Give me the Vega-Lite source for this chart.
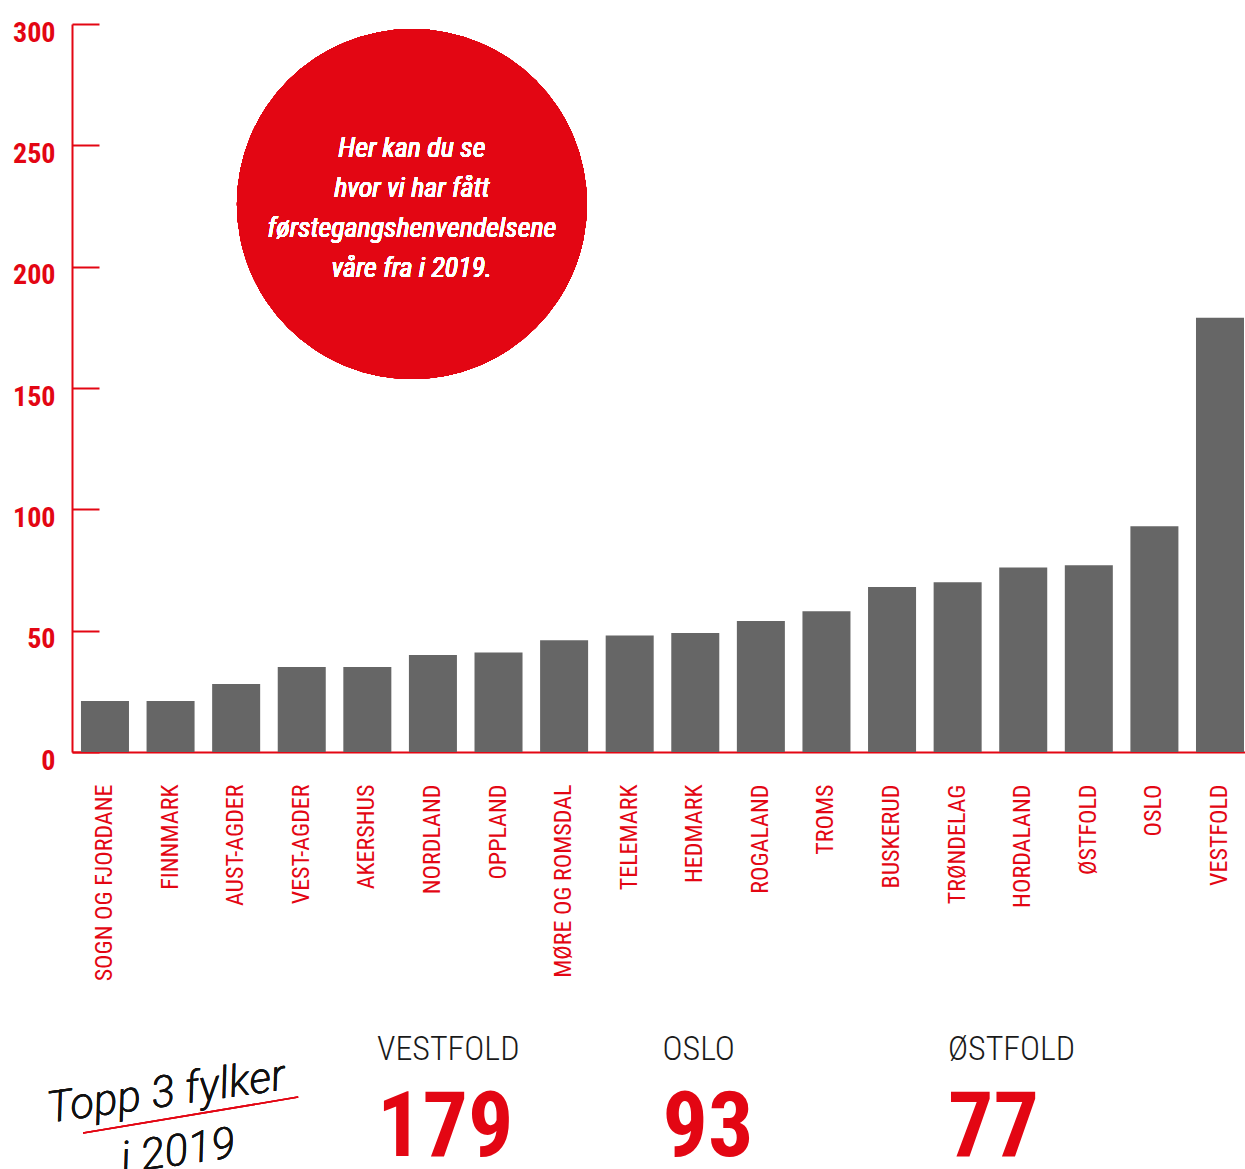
{
  "$schema": "https://vega.github.io/schema/vega-lite/v6.json",
  "autosize": "none",
  "padding": {"left": 72, "top": 24, "right": 0, "bottom": 417},
  "width": 1173,
  "height": 728,
  "background": "white",
  "config": {
    "view": {"stroke": null},
    "font": "Roboto Condensed, DejaVu Sans Condensed, sans-serif"
  },
  "data": {
    "values": [
      {"fylke": "SOGN OG FJORDANE", "antall": 21},
      {"fylke": "FINNMARK", "antall": 21},
      {"fylke": "AUST-AGDER", "antall": 28},
      {"fylke": "VEST-AGDER", "antall": 35},
      {"fylke": "AKERSHUS", "antall": 35},
      {"fylke": "NORDLAND", "antall": 40},
      {"fylke": "OPPLAND", "antall": 41},
      {"fylke": "MØRE OG ROMSDAL", "antall": 46},
      {"fylke": "TELEMARK", "antall": 48},
      {"fylke": "HEDMARK", "antall": 49},
      {"fylke": "ROGALAND", "antall": 54},
      {"fylke": "TROMS", "antall": 58},
      {"fylke": "BUSKERUD", "antall": 68},
      {"fylke": "TRØNDELAG", "antall": 70},
      {"fylke": "HORDALAND", "antall": 76},
      {"fylke": "ØSTFOLD", "antall": 77},
      {"fylke": "OSLO", "antall": 93},
      {"fylke": "VESTFOLD", "antall": 179}
    ]
  },
  "resolve": {"scale": {"x": "independent"}, "axis": {"x": "independent"}},
  "layer": [
    {
      "layer": [
        {
          "mark": {"type": "bar", "color": "#666666"},
          "encoding": {
            "x": {
              "field": "fylke", "type": "nominal", "sort": null,
              "scale": {"paddingInner": 0.268, "paddingOuter": 0.076, "align": 0.9},
              "axis": {
                "title": null, "ticks": false, "labelAngle": -90,
                "labelPadding": 32, "labelLimit": 0,
                "labelFont": "Roboto Condensed, DejaVu Sans Condensed, sans-serif",
                "labelFontSize": 24, "labelColor": "#e30613",
                "domainColor": "#e30613", "domainWidth": 2
              }
            },
            "y": {
              "field": "antall", "type": "quantitative",
              "scale": {"domain": [0, 300], "nice": false},
              "axis": {
                "title": null, "grid": false,
                "values": [0, 50, 100, 150, 200, 250, 300],
                "domainColor": "#e30613", "domainWidth": 2,
                "tickColor": "#e30613", "tickWidth": 2, "tickSize": -27,
                "labelPadding": 44, "labelOffset": 9,
                "labelFont": "Roboto Condensed, DejaVu Sans Condensed, sans-serif",
                "labelFontWeight": "bold", "labelFontSize": 28,
                "labelColor": "#e30613"
              }
            }
          }
        },
        {
          "mark": {"type": "point", "shape": "circle", "filled": true, "color": "#e30613", "opacity": 1, "size": 122500},
          "encoding": {
            "x": {"datum": "NORDLAND", "bandPosition": 0.0625},
            "y": {"datum": 225.8}
          }
        },
        {
          "mark": {
            "type": "text", "color": "white", "fontStyle": "italic", "fontSize": 28,
            "align": "center", "baseline": "middle", "lineBreak": "\n", "lineHeight": 40,
            "font": "Roboto Condensed, DejaVu Sans Condensed, sans-serif"
          },
          "encoding": {
            "x": {"datum": "NORDLAND", "bandPosition": 0.0625},
            "y": {"datum": 248.3},
            "text": {"value": "Her kan du se\nhvor vi har fått\nførstegangshenvendelsene\nvåre fra i 2019."}
          }
        }
      ]
    },
    {
      "transform": [
        {"window": [{"op": "row_number", "as": "rank"}], "sort": [{"field": "antall", "order": "descending"}]},
        {"filter": "datum.rank <= 3"}
      ],
      "layer": [
        {
          "mark": {"type": "text", "align": "left", "baseline": "alphabetic", "fontSize": 34, "fontWeight": 300, "color": "#1a1a1a",
            "font": "Roboto Condensed, DejaVu Sans Condensed, sans-serif"},
          "encoding": {
            "x": {"field": "rank", "type": "quantitative", "scale": {"domain": [-0.0683, 4.0403], "nice": false, "zero": false}, "axis": null},
            "y": {"datum": -126.9},
            "text": {"field": "fylke"}
          }
        },
        {
          "mark": {"type": "text", "align": "left", "baseline": "alphabetic", "fontSize": 90, "fontWeight": "bold", "color": "#e30613",
            "font": "Roboto Condensed, DejaVu Sans Condensed, sans-serif"},
          "encoding": {
            "x": {"field": "rank", "type": "quantitative", "scale": {"domain": [-0.0683, 4.0403], "nice": false, "zero": false}, "axis": null},
            "y": {"datum": -166.5},
            "text": {"field": "antall"}
          }
        },
        {
          "mark": {"type": "rule", "color": "#e30613", "strokeWidth": 1.5},
          "encoding": {
            "x": {"datum": -0.0295, "scale": {"domain": [-0.0683, 4.0403], "nice": false, "zero": false}, "axis": null},
            "x2": {"datum": 0.724},
            "y": {"datum": -157},
            "y2": {"datum": -142.2}
          }
        },
        {
          "mark": {"type": "text", "align": "center", "baseline": "alphabetic", "fontSize": 44, "fontStyle": "italic", "fontWeight": 300, "color": "#111111", "angle": -8,
            "font": "Roboto, Liberation Sans, sans-serif"},
          "encoding": {
            "x": {"datum": 0.268, "scale": {"domain": [-0.0683, 4.0403], "nice": false, "zero": false}, "axis": null},
            "y": {"datum": -145.9},
            "text": {"value": "Topp 3 fylker"}
          }
        },
        {
          "mark": {"type": "text", "align": "center", "baseline": "alphabetic", "fontSize": 44, "fontStyle": "italic", "fontWeight": 300, "color": "#111111", "angle": -8,
            "font": "Roboto, Liberation Sans, sans-serif"},
          "encoding": {
            "x": {"datum": 0.31, "scale": {"domain": [-0.0683, 4.0403], "nice": false, "zero": false}, "axis": null},
            "y": {"datum": -170.2},
            "text": {"value": "i 2019"}
          }
        }
      ]
    }
  ]
}
